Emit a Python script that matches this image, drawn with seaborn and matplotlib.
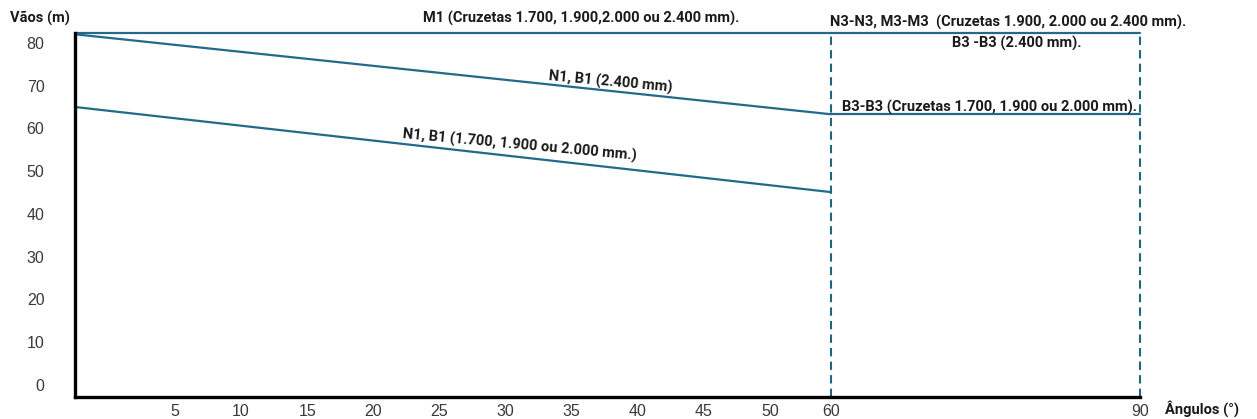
#!/usr/bin/env python3
"""Vãos x ângulos chart for cross-arm structures."""

import matplotlib

matplotlib.use("Agg")
import matplotlib.pyplot as plt
import numpy as np
import pandas as pd
import seaborn as sns

# data
series = ["M1", "N1B1_2400", "N1B1_small", "B3B3"]
angle_start = [0, 0, 0, 60]
angle_end = [90, 60, 60, 90]
span_start = [82.3, 82.0, 65.0, 63.3]
span_end = [82.3, 63.3, 45.1, 63.3]
limit_angles = [60, 90]
y_ticks = [0, 10, 20, 30, 40, 50, 60, 70, 80]
x_ticks = [5, 10, 15, 20, 25, 30, 35, 40, 45, 50, 60, 90]

LINE = "#236A8A"
DASH = "#22637E"
TXT = "#1a1a1a"

# the original axis is not linear: piecewise scale
KNOT_A = np.array([-100, 0, 5, 50, 60, 90, 200])
KNOT_P = np.array([-2000, 0, 100, 695, 756, 1065, 2198])


def fwd(a):
    return np.interp(a, KNOT_A, KNOT_P)


def inv(p):
    return np.interp(p, KNOT_P, KNOT_A)


rows = []
for name, a0, a1, s0, s1 in zip(series, angle_start, angle_end, span_start, span_end):
    rows.append({"serie": name, "angulo": a0, "vao": s0})
    rows.append({"serie": name, "angulo": a1, "vao": s1})
df = pd.DataFrame(rows)

sns.set_theme(style="white")
plt.rcParams["font.family"] = ["Liberation Sans", "DejaVu Sans"]

fig = plt.figure(figsize=(12.57, 4.19), dpi=100)
ax = fig.add_axes([75 / 1257, 1 - 397 / 419, (1140 - 75) / 1257, (397 - 33) / 419])
ax.set_xscale("function", functions=(fwd, inv))

sns.lineplot(
    data=df, x="angulo", y="vao", units="serie", estimator=None,
    color=LINE, linewidth=1.6, ax=ax, legend=False,
)
for a in limit_angles:
    ax.plot([a, a], [-2.8, span_start[0]], color=DASH, linewidth=1.5,
            linestyle=(0, (4, 2.5)))
for ln in ax.lines:
    ln.set_clip_on(False)

ax.set_xlim(0, 90)
ax.set_ylim(-2.8, span_start[0])
ax.set_xticks(x_ticks)
ax.set_xticklabels([str(t) for t in x_ticks])
ax.set_yticks(y_ticks)
ax.set_yticklabels([str(t) for t in y_ticks])
ax.tick_params(axis="y", length=0, pad=22, labelsize=11.5, labelcolor="#3a3a3a")
ax.tick_params(axis="x", length=0, pad=5, labelsize=11.5, labelcolor="#3a3a3a")
ax.set_xlabel("")
ax.set_ylabel("")
for side in ["top", "right"]:
    ax.spines[side].set_visible(False)
for side in ["left", "bottom"]:
    ax.spines[side].set_color("black")
    ax.spines[side].set_linewidth(2.4)

anno = dict(family=["Roboto", "DejaVu Sans"], fontweight="bold", fontsize=10.5, color=TXT)
fig.text(10 / 1257, 1 - 18 / 419, "Vãos (m)", ha="left", va="center", **anno)
fig.text(1165 / 1257, 1 - 409 / 419, "Ângulos (°)", ha="left", va="center", **anno)
fig.text(581 / 1257, 1 - 18 / 419, "M1 (Cruzetas 1.700, 1.900,2.000 ou 2.400 mm).",
         ha="center", va="center", **anno)
fig.text(830 / 1257, 1 - 22 / 419, "N3-N3, M3-M3  (Cruzetas 1.900, 2.000 ou 2.400 mm).",
         ha="left", va="center", **anno)
fig.text(1017 / 1257, 1 - 43 / 419, "B3 -B3 (2.400 mm).", ha="center", va="center", **anno)
fig.text(990 / 1257, 1 - 107 / 419, "B3-B3 (Cruzetas 1.700, 1.900 ou 2.000 mm).",
         ha="center", va="center", **anno)
fig.text(610 / 1257, 1 - 82 / 419, "N1, B1 (2.400 mm)", ha="center", va="center",
         rotation=-5.3, rotation_mode="anchor", **anno)
fig.text(520 / 1257, 1 - 145 / 419, "N1, B1 (1.700, 1.900 ou 2.000 mm.)", ha="center",
         va="center", rotation=-5.3, rotation_mode="anchor", **anno)

fig.savefig("out.png", dpi=100)
